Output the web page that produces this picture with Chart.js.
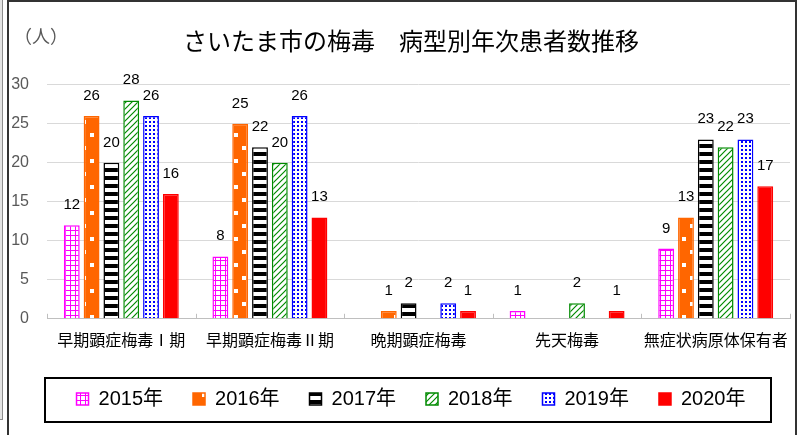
<!DOCTYPE html>
<html>
<head>
<meta charset="utf-8">
<script src="https://cdn.jsdelivr.net/npm/chart.js@4"></script>
<style>
html, body { margin: 0; padding: 0; background: #fff; }
#wrap { position: relative; width: 803px; height: 435px; overflow: hidden; }
#chart { position: absolute; left: 0; top: 0; }
.side { position: absolute; left: 0; top: -2px; width: 2px; height: 421px; background: #e4e4e4; border-right: 1px solid #8c8c8c; border-bottom: 1px solid #8c8c8c; }
.frame { position: absolute; left: 7px; top: 0; width: 786px; height: 470px; border: 2px solid #333; border-bottom: none; pointer-events: none; }
</style>
</head>
<body>
<div id="wrap">
  <canvas id="chart" width="803" height="435"></canvas>
  <div class="side"></div>
  <div class="frame"></div>
</div>
<script>
// --- data ---
const titleText = 'さいたま市の梅毒\u3000病型別年次患者数推移';
const unitLabel = '（人）';
const categories = ['早期顕症梅毒Ⅰ期', '早期顕症梅毒Ⅱ期', '晩期顕症梅毒', '先天梅毒', '無症状病原体保有者'];
const years = ['2015年', '2016年', '2017年', '2018年', '2019年', '2020年'];
const data2015 = [12, 8, null, 1, 9];
const data2016 = [26, 25, 1, null, 13];
const data2017 = [20, 22, 2, null, 23];
const data2018 = [28, 20, null, 2, 22];
const data2019 = [26, 26, 2, null, 23];
const data2020 = [16, 13, 1, 1, 17];
const yTicks = [0, 5, 10, 15, 20, 25, 30];

// --- fill patterns (like the Excel hatch fills) ---
function makePattern(w, h, draw) {
    const c = document.createElement('canvas');
    c.width = w; c.height = h;
    const g = c.getContext('2d');
    draw(g, w, h);
    return g.createPattern(c, 'repeat');
}

const gridMagenta = makePattern(5, 5, (g) => {
    g.fillStyle = '#fff'; g.fillRect(0, 0, 5, 5);
    g.fillStyle = '#ff00ff';
    g.fillRect(0, 0, 5, 1);
    g.fillRect(0, 0, 1, 5);
});
const confettiOrange = makePattern(16, 26, (g) => {
    g.fillStyle = '#ff6600'; g.fillRect(0, 0, 16, 26);
    g.fillStyle = '#fff';
    g.fillRect(10, 3, 4, 4);
    g.fillRect(2, 16, 4, 4);
});
const stripesBlack = makePattern(8, 8, (g) => {
    g.fillStyle = '#fff'; g.fillRect(0, 0, 8, 8);
    g.fillStyle = '#000'; g.fillRect(0, 0, 8, 4);
});
const diagGreen = makePattern(6, 6, (g) => {
    g.fillStyle = '#fff'; g.fillRect(0, 0, 6, 6);
    g.strokeStyle = '#008a00'; g.lineWidth = 1.2;
    g.beginPath();
    g.moveTo(0, 6); g.lineTo(6, 0);
    g.moveTo(-1, 1); g.lineTo(1, -1);
    g.moveTo(5, 7); g.lineTo(7, 5);
    g.stroke();
});
const dotsBlue = makePattern(4, 4, (g) => {
    g.fillStyle = '#fff'; g.fillRect(0, 0, 4, 4);
    g.fillStyle = '#0000ff'; g.fillRect(1, 1, 2, 2);
});

const seriesValues = [data2015, data2016, data2017, data2018, data2019, data2020];
const fills = [gridMagenta, confettiOrange, stripesBlack, diagGreen, dotsBlue, '#ff0000'];
const borders = ['#ff00ff', '#ff6600', '#000000', '#008a00', '#0000ff', '#ff0000'];

// --- plugins ---
const valueLabels = {
    id: 'valueLabels',
    afterDatasetsDraw(chart) {
        const ctx = chart.ctx;
        ctx.save();
        ctx.font = '15px "Liberation Sans", sans-serif';
        ctx.fillStyle = '#000';
        ctx.textAlign = 'center';
        ctx.textBaseline = 'alphabetic';
        chart.data.datasets.forEach((ds, i) => {
            chart.getDatasetMeta(i).data.forEach((bar, j) => {
                const v = ds.data[j];
                if (v == null) return;
                ctx.fillText(String(v), bar.x, bar.y - 16);
            });
        });
        ctx.restore();
    }
};

const extras = {
    id: 'extras',
    afterDraw(chart) {
        const ctx = chart.ctx;
        const area = chart.chartArea;
        const xs = chart.scales.x;
        ctx.save();
        // unit label
        ctx.font = '18px "Noto Sans CJK JP", sans-serif';
        ctx.fillStyle = '#595959';
        ctx.textAlign = 'center';
        ctx.textBaseline = 'middle';
        ctx.fillText(unitLabel, area.left - 6, area.top - 49);
        // small tick marks between categories
        ctx.strokeStyle = '#bfbfbf';
        ctx.lineWidth = 1;
        const step = (xs.right - xs.left) / categories.length;
        for (let i = 0; i <= categories.length; i++) {
            const x = Math.round(xs.left + i * step) + 0.5;
            ctx.beginPath();
            ctx.moveTo(x, area.bottom - 5);
            ctx.lineTo(x, area.bottom);
            ctx.stroke();
        }
        // frame around the legend
        const hb = chart.legend.legendHitBoxes;
        if (hb && hb.length) {
            const last = hb[hb.length - 1];
            const l = Math.round(hb[0].left - 32);
            const r = Math.round(last.left + last.width + 26);
            const t = Math.round(hb[0].top - 11);
            const b = Math.round(hb[0].top + 33);
            ctx.strokeStyle = '#000';
            ctx.lineWidth = 2;
            ctx.strokeRect(l, t, r - l, b - t);
        }
        ctx.restore();
    }
};

// --- chart ---
new Chart(document.getElementById('chart').getContext('2d'), {
    type: 'bar',
    data: {
        labels: categories,
        datasets: years.map((y, i) => ({
            label: y,
            data: seriesValues[i],
            backgroundColor: fills[i],
            borderColor: borders[i],
            borderWidth: 1.5,
            categoryPercentage: 0.8,
            barPercentage: 0.8
        }))
    },
    options: {
        responsive: false,
        animation: false,
        layout: { padding: { left: 20, right: 1, top: 0, bottom: 16 } },
        plugins: {
            title: {
                display: true,
                text: titleText,
                color: '#000',
                font: { family: '"Noto Sans CJK JP", sans-serif', size: 24, weight: 'normal' },
                padding: { top: 26, bottom: 30 }
            },
            legend: {
                position: 'bottom',
                labels: {
                    boxWidth: 12,
                    boxHeight: 12,
                    padding: 30,
                    color: '#000',
                    font: { family: '"Liberation Sans", "Noto Sans CJK JP", sans-serif', size: 20 }
                }
            },
            tooltip: { enabled: false }
        },
        scales: {
            x: {
                grid: { display: false, drawTicks: false },
                border: { display: true, color: '#bfbfbf' },
                ticks: {
                    color: '#000',
                    font: { family: '"Noto Sans CJK JP", sans-serif', size: 16 },
                    padding: 12,
                    maxRotation: 0,
                    autoSkip: false
                },
                afterFit(s) { s.height -= 3; }
            },
            y: {
                min: 0,
                max: 30,
                afterBuildTicks(s) { s.ticks = yTicks.map(v => ({ value: v })); },
                afterFit(s) {
                    s.width = 27;
                    // let the tick labels run into the left padding
                    s._computeLabelArea = () => undefined;
                },
                grid: { color: '#d9d9d9', drawTicks: false },
                border: { display: false },
                ticks: {
                    color: '#595959',
                    font: { family: '"Liberation Sans", sans-serif', size: 16 },
                    padding: 18
                }
            },
            y2: {
                position: 'right',
                display: true,
                grid: { display: false, drawTicks: false },
                border: { display: false },
                ticks: { display: false },
                afterFit(s) { s.width = 12; }
            }
        }
    },
    plugins: [valueLabels, extras]
});
</script>
</body>
</html>
